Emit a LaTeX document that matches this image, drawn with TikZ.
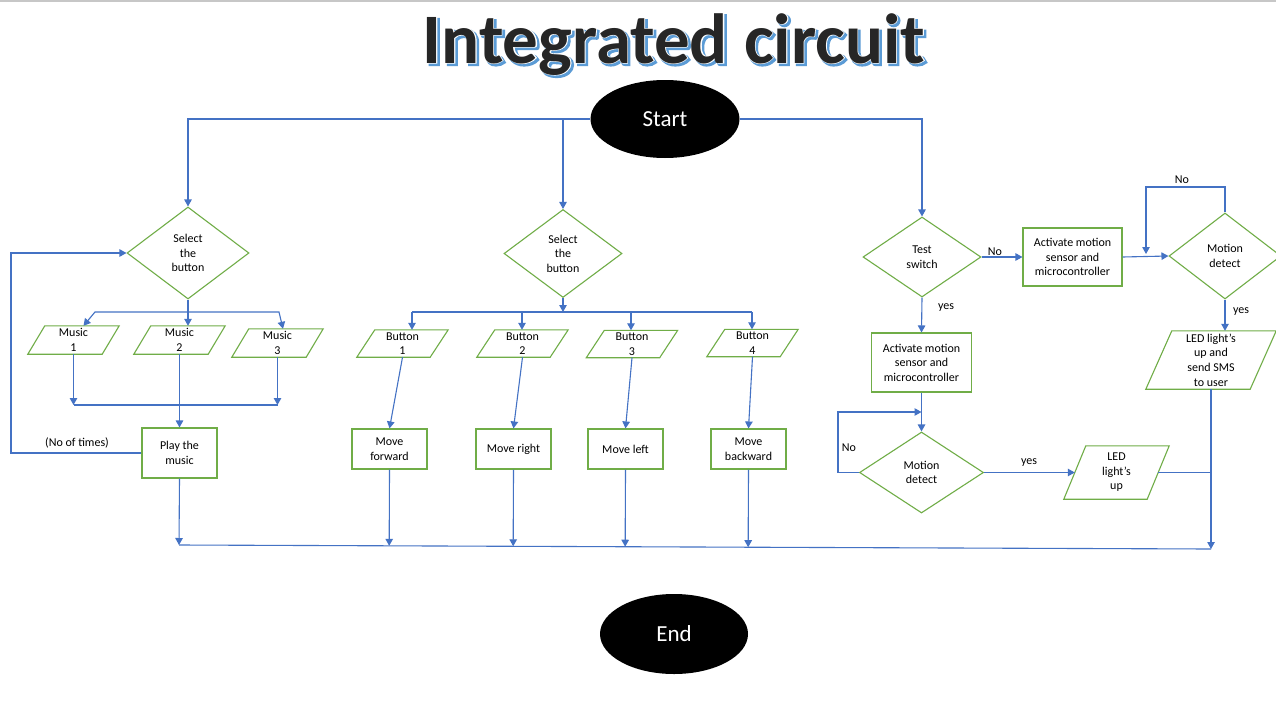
\documentclass[tikz,border=0pt]{standalone}
\usepackage{fontspec}
\setmainfont{Carlito}
\newfontfamily\titleshadowfont[FakeBold=3]{Carlito}
\newfontfamily\titlewhitefont[FakeBold=1.5]{Carlito}
\usetikzlibrary{shapes.geometric,arrows.meta,calc}
\definecolor{cblue}{HTML}{4472C4}
\definecolor{cgreen}{HTML}{70AD47}
\definecolor{tdark}{HTML}{262626}
\definecolor{tshadow}{HTML}{5B9BD5}
\newcommand\pgramdraw[2]{\draw[pgline] ([xshift=-#2]#1.south west) -- ([xshift=#2]#1.north west) -- ([xshift=#2]#1.north east) -- ([xshift=-#2]#1.south east) -- cycle;}
\begin{document}
\begin{tikzpicture}[x=1pt,y=-1pt,
  every node/.style={font=\fontsize{12}{14.6}\selectfont, inner sep=0pt, align=center},
  conn/.style={cblue, line width=1.1pt},
  arr/.style={conn, -{Triangle[width=7.5pt,length=7pt]}},
  pgline/.style={draw=cgreen, line width=1.1pt, line join=miter},
  dec/.style 2 args={diamond, draw=cgreen, line width=1.1pt, minimum width=#1, minimum height=#2},
  box/.style 2 args={rectangle, draw=cgreen, line width=1.1pt, minimum width=#1, minimum height=#2},
  pg/.style 2 args={rectangle, minimum width=#1, minimum height=#2},
  term/.style={ellipse, fill=black, text=white, font=\fontsize{23}{28}\selectfont, minimum width=149pt, minimum height=78pt},
  titlefont/.style={anchor=base}
]
\useasboundingbox (0,0) rectangle (1276,720);
\fill[white] (0,0) rectangle (1276,720);
\coordinate (tl) at (0,1);
\coordinate (tr) at (1276,1);
\draw[line width=1.5pt, color=black!22] (tl) -- (tr);

% title: blue shadow, white rim, dark text
\node[titlefont, text=tshadow, font=\titleshadowfont\fontsize{71}{80}\selectfont\bfseries] (titleshadow) at (676,65) {Integrated circuit};
\node[titlefont, text=white, font=\titlewhitefont\fontsize{71}{80}\selectfont\bfseries] (titlerim) at (674,63) {Integrated circuit};
\node[titlefont, text=tdark, font=\fontsize{71}{80}\selectfont\bfseries] (title) at (674,63) {Integrated circuit};

% terminals
\node[term] (start) at (665,119) {Start};
\node[term, minimum width=148pt, minimum height=80pt] (end) at (674,634) {End};

% left branch
\node[dec={122pt}{92pt}] (sel1) at (188,253) {Select\\the\\button};
\node[pg={74pt}{28pt}] (m1) at (73.5,340) {Music\\1};
\node[pg={74pt}{28pt}] (m2) at (179.5,340) {Music\\2};
\node[pg={74pt}{28pt}] (m3) at (277.5,343) {Music\\3};
\pgramdraw{m1}{8.5pt}
\pgramdraw{m2}{8.5pt}
\pgramdraw{m3}{8.5pt}
\node[box={75pt}{50pt}] (play) at (179.5,453) {Play the\\music};
\node (nooftimes) at (77,443) {(No of times)};

% middle branch
\node[dec={118pt}{88pt}] (sel2) at (563,253.5) {Select\\the\\button};
\node[pg={73pt}{27pt}] (b1) at (402.5,343.5) {Button\\1};
\node[pg={73pt}{27pt}] (b2) at (522.5,343.5) {Button\\2};
\node[pg={73pt}{27pt}] (b3) at (632,344) {Button\\3};
\node[pg={73pt}{27pt}] (b4) at (752.5,343) {Button\\4};
\pgramdraw{b1}{9pt}
\pgramdraw{b2}{9pt}
\pgramdraw{b3}{9pt}
\pgramdraw{b4}{9pt}
\node[box={75pt}{40pt}] (mf) at (389.5,449) {Move\\forward};
\node[box={75pt}{40pt}] (mr) at (513.5,449) {Move right};
\node[box={75pt}{40pt}] (ml) at (625.5,449) {Move left};
\node[box={75pt}{40pt}] (mb) at (748.5,449) {Move\\backward};

% right branch
\node[dec={118pt}{80pt}] (ts) at (922,257) {Test\\switch};
\node[box={99pt}{58pt}] (a1) at (1072.5,257) {Activate motion\\sensor and\\microcontroller};
\node[dec={112pt}{86pt}] (md1) at (1225,256) {Motion\\detect};
\node[pg={104pt}{58pt}] (ledsms) at (1211,360) {LED light’s\\up and\\send SMS\\to user};
\pgramdraw{ledsms}{13pt}
\node[box={100pt}{59pt}] (a2) at (921.5,362.5) {Activate motion\\sensor and\\microcontroller};
\node[dec={124pt}{81pt}] (md2) at (921.5,472.5) {Motion\\detect};
\node[pg={83pt}{53pt}] (led) at (1116.5,472.5) {LED\\light’s\\up};
\pgramdraw{led}{11pt}

% labels
\node (lno1) at (995,252) {No};
\node (lno2) at (1182,180) {No};
\node (lyes1) at (1241,312) {yes};
\node (lyes2) at (946,308) {yes};
\node (lno3) at (849,448) {No};
\node (lyes3) at (1029,463) {yes};

% connectors from start
\draw[arr] (start.west) -| (sel1.north);
\draw[arr] (start.east) -| (ts.north);
\draw[arr] (start.west -| sel2.north) -- (sel2.north);

% left connectors
\coordinate (h1) at (188,312);
\coordinate (h1l) at (95,312);
\coordinate (h1r) at (279,312);
\draw[conn] (sel1.south) -- (h1);
\draw[arr] (h1) -- (h1l) -- ([xshift=10pt]m1.north);
\draw[arr] (h1) -- (h1 |- m2.north);
\draw[arr] (h1) -- (h1r) -- ([xshift=5.5pt]m3.north);
\coordinate (jl) at (73.5,405);
\coordinate (jr) at (277.5,405);
\draw[conn] (jl) -- (jr);
\draw[arr] (m1.south) -- (jl);
\draw[arr] (m3.south) -- (jr);
\draw[arr] (m2.south) -- (play.north);
\coordinate (lp) at (11,253);
\draw[arr] (play.west) -| (lp) -- (sel1.west);

% middle connectors
\coordinate (h2) at (563,312);
\coordinate (t1) at (412,312);
\coordinate (t2) at (522,312);
\coordinate (t3) at (631,312);
\coordinate (t4) at (752,312);
\draw[arr] (sel2.south) -- (h2);
\draw[conn] (t1) -- (t4);
\draw[arr] (t1) -- (t1 |- b1.north);
\draw[arr] (t2) -- (t2 |- b2.north);
\draw[arr] (t3) -- (t3 |- b3.north);
\draw[arr] (t4) -- (t4 |- b4.north);
\draw[arr] (b1.south) -- (mf.north);
\draw[arr] (b2.south) -- (mr.north);
\draw[arr] (b3.south) -- (ml.north);
\draw[arr] (b4.south) -- (mb.north);

% right connectors
\draw[arr] (ts.east) -- (a1.west);
\draw[arr] (a1.east) -- (md1.west);
\coordinate (lt) at (1146,187);
\coordinate (lt2) at (1146,254);
\draw[arr] (md1.north) |- (lt) -- (lt2);
\draw[arr] (md1.south) -- (md1.south |- ledsms.north);
\draw[arr] (ts.south) -- (a2.north);
\draw[arr] (a2.south) -- (md2.north);
\coordinate (lb) at (838,412);
\coordinate (lb2) at (921.5,412);
\draw[arr] (md2.west) -| (lb) -- (lb2);
\draw[arr] (md2.east) -- (led.west);

% bottom collector
\coordinate (bl) at (179,545);
\coordinate (br) at (1211,549);
\draw[conn] (bl) -- (br);
\draw[arr] (play.south) -- (bl);
\draw[arr] (mf.south) -- ($(bl)!(mf.south)!(br)$);
\draw[arr] (mr.south) -- ($(bl)!(mr.south)!(br)$);
\draw[arr] (ml.south) -- ($(bl)!(ml.south)!(br)$);
\draw[arr] (mb.south) -- ($(bl)!(mb.south)!(br)$);
\draw[arr] (ledsms.south) -- (br);
\draw[conn] (led.east) -- (led.east -| br);
\end{tikzpicture}
\end{document}
